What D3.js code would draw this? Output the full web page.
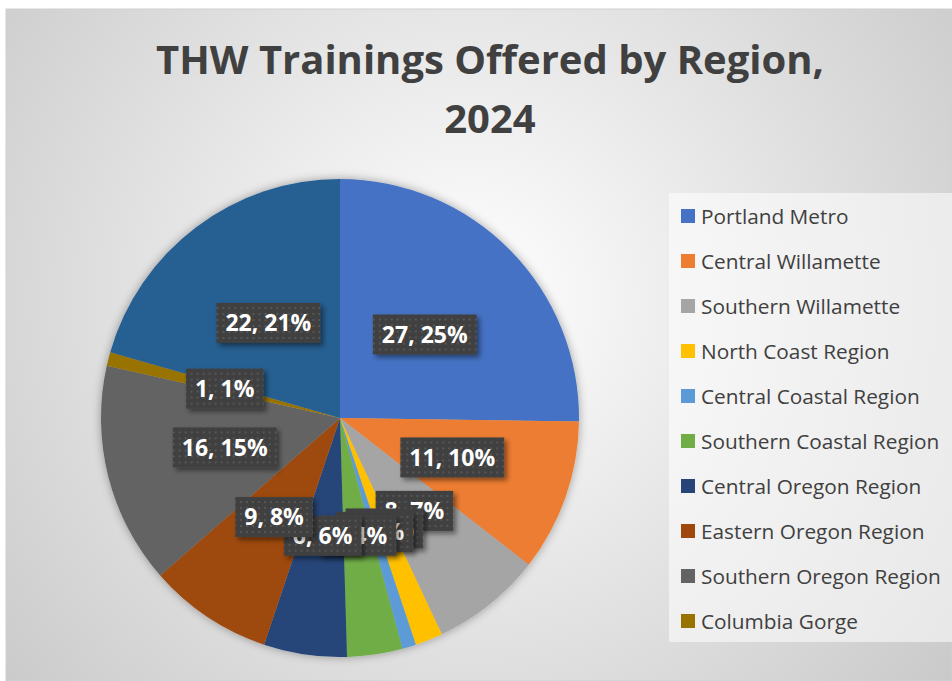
<!DOCTYPE html>
<html>
<head>
<meta charset="utf-8">
<script src="https://cdn.jsdelivr.net/npm/d3@7"></script>
<style>
  body { margin: 0; background: #fff; }
  svg { display: block; }
</style>
</head>
<body>
<div id="chart"></div>
<script>
// chart data
var regions = ["Portland Metro", "Central Willamette", "Southern Willamette", "North Coast Region",
    "Central Coastal Region", "Southern Coastal Region", "Central Oregon Region", "Eastern Oregon Region",
    "Southern Oregon Region", "Columbia Gorge", "Statewide"];
var trainings = [27, 11, 8, 2, 1, 4, 6, 9, 16, 1, 22];
var sliceColors = ["#4472C4", "#ED7D31", "#A5A5A5", "#FFC000", "#5B9BD5", "#70AD47",
    "#264478", "#9E480E", "#636363", "#997300", "#255E91"];
var legendCount = 10; // the last entry is cut off in the original

var W = 952, H = 681;
var cx = 340, cy = 418, radius = 239, labelRadius = 119;

var svg = d3.select("#chart").append("svg")
    .attr("width", W)
    .attr("height", H);

var defs = svg.append("defs");

// chart area background
var bg = defs.append("radialGradient")
    .attr("id", "bgGrad")
    .attr("gradientUnits", "userSpaceOnUse")
    .attr("cx", 470).attr("cy", 300).attr("r", 620);
bg.append("stop").attr("offset", "0%").attr("stop-color", "#ffffff");
bg.append("stop").attr("offset", "100%").attr("stop-color", "#c9c9c9");

// dotted fill for label boxes
var pat = defs.append("pattern")
    .attr("id", "dots")
    .attr("patternUnits", "userSpaceOnUse")
    .attr("width", 6).attr("height", 6);
pat.append("rect").attr("width", 6).attr("height", 6).attr("fill", "#3f3f3f");
pat.append("rect").attr("x", 2).attr("y", 2).attr("width", 2).attr("height", 2).attr("fill", "#575757");

var shadow = defs.append("filter").attr("id", "lblShadow")
    .attr("x", "-20%").attr("y", "-30%").attr("width", "150%").attr("height", "180%");
shadow.append("feDropShadow")
    .attr("dx", 3).attr("dy", 3).attr("stdDeviation", 2.5)
    .attr("flood-color", "#000").attr("flood-opacity", 0.45);

var pieShadow = defs.append("filter").attr("id", "pieShadow")
    .attr("x", "-10%").attr("y", "-10%").attr("width", "120%").attr("height", "120%");
pieShadow.append("feDropShadow")
    .attr("dx", 0).attr("dy", 0).attr("stdDeviation", 5)
    .attr("flood-color", "#000").attr("flood-opacity", 0.35);

svg.append("rect")
    .attr("x", 6).attr("y", 9)
    .attr("width", W - 6).attr("height", H - 9)
    .attr("fill", "url(#bgGrad)")
    .attr("stroke", "#d0d0d0");

// title
var title = svg.append("text")
    .attr("x", 490)
    .attr("text-anchor", "middle")
    .style("font-family", "'Open Sans', sans-serif")
    .style("font-weight", "bold")
    .style("font-size", "40px")
    .style("fill", "#404040");
title.append("tspan").attr("x", 490).attr("y", 74).text("THW Trainings Offered by Region,");
title.append("tspan").attr("x", 490).attr("y", 133).text("2024");

// pie
var total = d3.sum(trainings);
var data = regions.map(function (r, i) { return { name: r, value: trainings[i], color: sliceColors[i] }; });

var pie = d3.pie()
    .sort(null)
    .value(function (d) { return d.value; });
var arc = d3.arc().innerRadius(0).outerRadius(radius);
var labelArc = d3.arc().innerRadius(labelRadius).outerRadius(labelRadius);

var g = svg.append("g").attr("transform", "translate(" + cx + "," + cy + ")");

g.append("g")
    .attr("filter", "url(#pieShadow)")
    .selectAll("path")
    .data(pie(data))
    .enter().append("path")
    .attr("d", arc)
    .attr("fill", function (d) { return d.data.color; });

// data labels
var fmtPct = function (v) { return Math.round(v / total * 100) + "%"; };
var labels = g.selectAll(".lbl")
    .data(pie(data))
    .enter().append("g")
    .attr("class", "lbl")
    .attr("transform", function (d) { return "translate(" + labelArc.centroid(d) + ")"; });

labels.each(function (d) {
    var lg = d3.select(this);
    var box = lg.append("rect").attr("fill", "url(#dots)").attr("filter", "url(#lblShadow)");
    var t = lg.append("text")
        .attr("text-anchor", "middle")
        .attr("dy", "0.36em")
        .style("font-family", "'Open Sans', sans-serif")
        .style("font-weight", "bold")
        .style("font-size", "23px")
        .style("fill", "#ffffff")
        .text(d.data.value + ", " + fmtPct(d.data.value));
    var w = t.node().getComputedTextLength() + 18;
    box.attr("x", -w / 2).attr("y", -20).attr("width", w).attr("height", 40);
});

// legend
var legend = svg.append("g");
legend.append("rect")
    .attr("x", 669).attr("y", 193)
    .attr("width", W - 669).attr("height", 449)
    .attr("fill", "#ffffff").attr("fill-opacity", 0.55);

var items = legend.selectAll(".item")
    .data(data.slice(0, legendCount))
    .enter().append("g")
    .attr("class", "item")
    .attr("transform", function (d, i) { return "translate(681," + (216 + i * 45) + ")"; });

items.append("rect")
    .attr("x", 0).attr("y", -7)
    .attr("width", 14).attr("height", 14)
    .attr("fill", function (d) { return d.color; });

items.append("text")
    .attr("x", 20)
    .attr("dy", "0.36em")
    .style("font-family", "'Open Sans', sans-serif")
    .style("font-size", "20.8px")
    .style("fill", "#404040")
    .text(function (d) { return d.name; });
</script>
</body>
</html>
